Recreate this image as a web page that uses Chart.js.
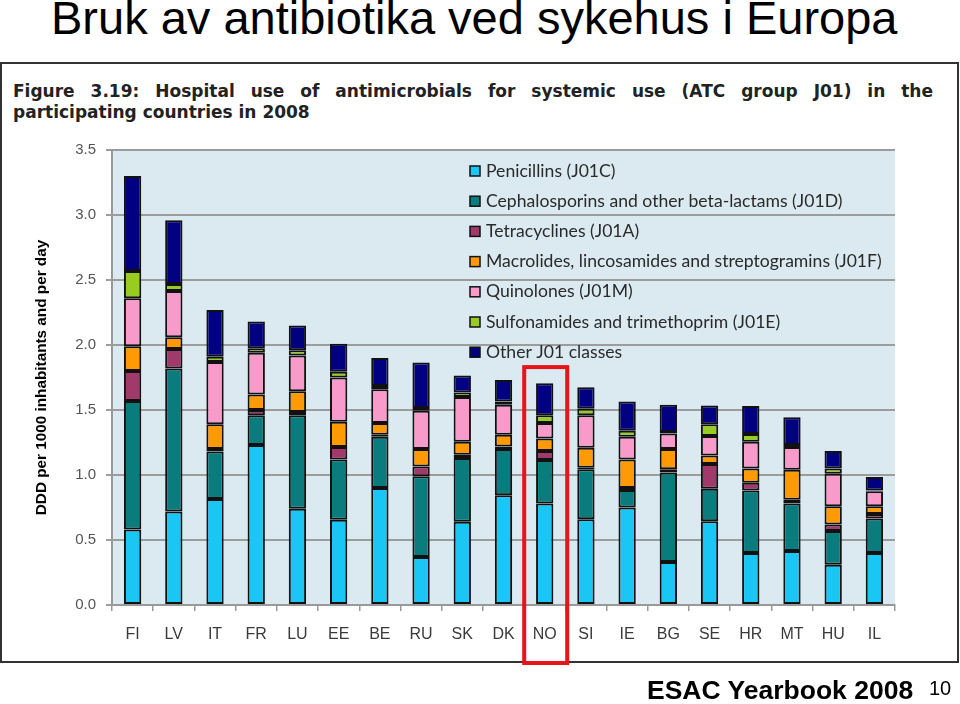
<!DOCTYPE html>
<html>
<head>
<meta charset="utf-8">
<script src="https://cdn.jsdelivr.net/npm/chart.js@4.4.0/dist/chart.umd.min.js"></script>
<style>
  body { margin: 0; width: 960px; height: 704px; background: #fff; overflow: hidden; position: relative; font-family: "Liberation Sans", Arial, sans-serif; }
  #title { position: absolute; left: 51px; top: -10px; font-size: 47px; color: #000; white-space: nowrap; }
  #frame { position: absolute; left: 0; top: 62px; width: 955px; height: 597px; border: 2px solid #333; }
  #caption { position: absolute; left: 11px; top: 17px; width: 920px; font-family: "DejaVu Sans", Verdana, sans-serif; font-weight: bold; font-size: 17px; line-height: 21px; color: #222; }
  #caption .l1 { text-align: justify; text-align-last: justify; white-space: nowrap; }
  #wrap { position: absolute; left: 0; top: 0; width: 960px; height: 704px; }
  #foot { position: absolute; left: 647px; top: 675px; font-size: 26.5px; font-weight: bold; color: #000; white-space: nowrap; }
  #page { position: absolute; left: 929px; top: 677px; font-size: 20px; color: #000; }
</style>
</head>
<body>
<div id="title">Bruk av antibiotika ved sykehus i Europa</div>
<div id="frame">
  <div id="caption">
    <div class="l1">Figure 3.19: Hospital use of antimicrobials for systemic use (ATC group J01) in the</div>
    <div>participating countries in 2008</div>
  </div>
</div>
<div id="wrap"><canvas id="chart"></canvas></div>
<div id="foot">ESAC Yearbook 2008</div>
<div id="page">10</div>
<script>
// Countries and DDD per 1000 inhabitants per day, by antibiotic class
const countries = ['FI','LV','IT','FR','LU','EE','BE','RU','SK','DK','NO','SI','IE','BG','SE','HR','MT','HU','IL'];
const penicillins   = [0.58,0.72,0.815,1.23,0.74,0.655,0.90,0.37,0.64,0.845,0.78,0.66,0.75,0.33,0.645,0.40,0.415,0.31,0.40];
const cephalosporins = [0.99,1.10,0.365,0.23,0.72,0.465,0.395,0.62,0.49,0.355,0.335,0.385,0.135,0.69,0.25,0.48,0.365,0.26,0.265];
const tetracyclines = [0.23,0.15,0.02,0.04,0.025,0.095,0.015,0.075,0.025,0.02,0.07,0.01,0.015,0.025,0.19,0.06,0.03,0.05,0.035];
const macrolides    = [0.19,0.09,0.19,0.12,0.16,0.195,0.09,0.135,0.10,0.09,0.095,0.155,0.22,0.155,0.065,0.11,0.23,0.14,0.06];
const quinolones    = [0.37,0.355,0.48,0.32,0.275,0.34,0.26,0.295,0.345,0.23,0.12,0.25,0.175,0.12,0.15,0.205,0.175,0.25,0.115];
const sulfonamides  = [0.21,0.055,0.04,0.035,0.04,0.045,0.025,0.02,0.035,0.025,0.06,0.05,0.045,0.01,0.09,0.06,0.015,0.04,0.005];
const otherClasses  = [0.73,0.49,0.36,0.205,0.19,0.215,0.215,0.35,0.13,0.165,0.245,0.165,0.225,0.21,0.145,0.215,0.215,0.135,0.105];

const seriesLabels = [
  'Penicillins (J01C)',
  'Cephalosporins and other beta-lactams (J01D)',
  'Tetracyclines (J01A)',
  'Macrolides, lincosamides and streptogramins (J01F)',
  'Quinolones (J01M)',
  'Sulfonamides and trimethoprim (J01E)',
  'Other J01 classes'
];
const seriesData = [penicillins, cephalosporins, tetracyclines, macrolides, quinolones, sulfonamides, otherClasses];
const seriesColors = ['#1ac6f4','#0b7c7d','#a1396b','#ff9a05','#f89bca','#99cc22','#000080'];
const yTicks = [0, 0.5, 1.0, 1.5, 2.0, 2.5, 3.0, 3.5];
const highlight = 'NO';

// light blue plot background
const plotBackground = {
  id: 'plotBackground',
  beforeDraw(chart) {
    const a = chart.chartArea, ctx = chart.ctx;
    ctx.save();
    ctx.fillStyle = '#dbeaf1';
    ctx.fillRect(a.left, a.top, a.right - a.left, a.bottom - a.top);
    ctx.restore();
  }
};

// legend inside the plot, upper right
const innerLegend = {
  id: 'innerLegend',
  afterDatasetsDraw(chart) {
    const a = chart.chartArea, ctx = chart.ctx;
    ctx.save();
    ctx.font = '17.6px Lato, "Open Sans", sans-serif';
    ctx.textBaseline = 'middle';
    chart.data.datasets.forEach((ds, i) => {
      const x = a.left + 358, y = a.top + 21 + i * 30.2;
      ctx.fillStyle = ds.backgroundColor;
      ctx.fillRect(x, y - 5, 10, 10);
      ctx.strokeStyle = '#111';
      ctx.lineWidth = 1.5;
      ctx.strokeRect(x, y - 5, 10, 10);
      ctx.fillStyle = '#2a2a2a';
      ctx.fillText(ds.label, x + 16, y);
    });
    ctx.restore();
  }
};

// red frame round the highlighted country
const highlightBox = {
  id: 'highlightBox',
  afterDraw(chart) {
    const xs = chart.scales.x, ys = chart.scales.y, ctx = chart.ctx;
    const idx = countries.indexOf(highlight);
    const cx = xs.getPixelForValue(idx);
    const top = ys.getPixelForValue(1.83);
    const bottom = chart.chartArea.bottom + 58;
    ctx.save();
    ctx.strokeStyle = '#e8141b';
    ctx.lineWidth = 4;
    ctx.strokeRect(cx - 20.5, top, 43, bottom - top);
    ctx.restore();
  }
};

new Chart(document.getElementById('chart'), {
  type: 'bar',
  data: {
    labels: countries,
    datasets: seriesData.map((d, i) => ({
      label: seriesLabels[i],
      data: d,
      backgroundColor: seriesColors[i],
      borderColor: '#111',
      borderWidth: 2,
      borderSkipped: false,
      barPercentage: 0.42,
      categoryPercentage: 1.0
    }))
  },
  options: {
    responsive: true,
    maintainAspectRatio: false,
    animation: false,
    layout: { padding: { left: 0, right: 65, top: 150, bottom: 44 } },
    plugins: { legend: { display: false }, tooltip: { enabled: false } },
    scales: {
      x: {
        stacked: true,
        afterFit(scale) { scale.height = 55; },
        border: { color: '#999', width: 2 },
        grid: { drawOnChartArea: false, color: '#999', lineWidth: 1.5, tickLength: 6 },
        ticks: { color: '#3a3a3a', padding: 14, font: { family: '"Liberation Sans Narrow", "Liberation Sans", sans-serif', size: 16 } }
      },
      y: {
        stacked: true,
        min: 0,
        max: 3.5,
        afterFit(scale) { scale.width = 112; },
        afterBuildTicks(scale) { scale.ticks = yTicks.map(v => ({ value: v })); },
        border: { color: '#999', width: 2 },
        grid: { color: '#9c9c9c', lineWidth: 2, tickLength: 6 },
        ticks: {
          color: '#555',
          padding: 10,
          font: { family: '"Liberation Sans", sans-serif', size: 15 },
          callback: v => v.toFixed(1)
        },
        title: {
          display: true,
          text: 'DDD per 1000 inhabitants and per day',
          color: '#000',
          padding: { top: 33, bottom: 0 },
          font: { family: '"Liberation Sans Narrow", "Liberation Sans", sans-serif', size: 15.3, weight: 'bold' }
        }
      }
    }
  },
  plugins: [plotBackground, innerLegend, highlightBox]
});
</script>
</body>
</html>
